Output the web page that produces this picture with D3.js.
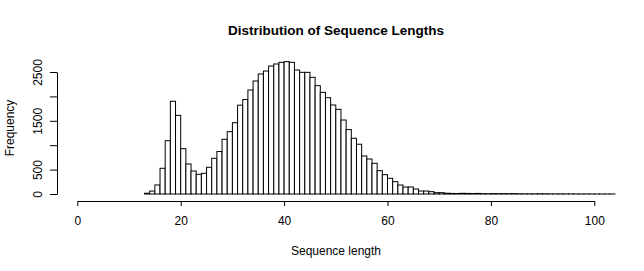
<!DOCTYPE html>
<html>
<head>
<meta charset="utf-8">
<script src="https://cdn.jsdelivr.net/npm/d3@7"></script>
<style>
body { margin: 0; background: #fff; }
text { font-family: "Liberation Sans", Arial, sans-serif; fill: #000; }
</style>
</head>
<body>
<script>
// histogram bins: left edge of each 1-unit bin and its count
var binStart = [13, 14, 15, 16, 17, 18, 19, 20, 21, 22, 23, 24, 25, 26, 27, 28, 29, 30,
    31, 32, 33, 34, 35, 36, 37, 38, 39, 40, 41, 42, 43, 44, 45, 46, 47, 48, 49, 50,
    51, 52, 53, 54, 55, 56, 57, 58, 59, 60, 61, 62, 63, 64, 65, 66, 67, 68, 69, 70,
    71, 72, 73, 74, 75, 76, 77, 78, 79, 80, 81, 82, 83, 84, 85, 86, 87, 88, 89, 90,
    91, 92, 93, 94, 95, 96, 97, 98, 99, 100, 101, 102, 103];
var counts = [15, 60, 185, 527, 1092, 1900, 1612, 929, 615, 471, 404, 424, 547, 731, 870, 1121, 1277, 1461,
    1820, 1935, 2131, 2316, 2459, 2520, 2623, 2664, 2698, 2712, 2698, 2541, 2493, 2493, 2391, 2220, 2083, 1974, 1824, 1735,
    1516, 1320, 1141, 1020, 779, 717, 629, 478, 396, 321, 253, 184, 143, 143, 102, 61, 61, 48, 27, 27,
    15, 12, 10, 14, 12, 10, 12, 8, 6, 9, 7, 8, 7, 8, 5, 4, 4, 3, 6, 5,
    3, 2, 3, 2, 2, 2, 1, 2, 1, 1, 1, 1, 1];
var binWidth = 1;

var xTicks = [0, 20, 40, 60, 80, 100];
var yTicks = [0, 500, 1000, 1500, 2000, 2500];
var yTickLabels = ["0", "500", "", "1500", "", "2500"];

var width = 644, height = 271;

var x = d3.scaleLinear().domain([0, 100]).range([77.3, 594.3]);
var y = d3.scaleLinear().domain([0, 2500]).range([194, 72]);

var svg = d3.select("body").append("svg")
    .attr("width", width)
    .attr("height", height);

var data = binStart.map(function(b, i) { return { x0: b, x1: b + binWidth, n: counts[i] }; });

// bars
svg.append("g").selectAll("rect")
    .data(data)
    .enter().append("rect")
    .attr("x", function(d) { return x(d.x0); })
    .attr("width", function(d) { return x(d.x1) - x(d.x0); })
    .attr("y", function(d) { return y(d.n); })
    .attr("height", function(d) { return y(0) - y(d.n); })
    .attr("fill", "#fff")
    .attr("stroke", "#000")
    .attr("stroke-width", 1);

// x axis
var xAxis = d3.axisBottom(x)
    .tickValues(xTicks)
    .tickSize(5)
    .tickPadding(10)
    .tickSizeOuter(0);

var gx = svg.append("g")
    .attr("transform", "translate(0,201)")
    .call(xAxis);
gx.selectAll("text").style("font-size", "12px").attr("font-family", null);
gx.selectAll("line, path").attr("stroke", "#000");

// y axis (R style, rotated labels)
var yAxis = d3.axisLeft(y)
    .tickValues(yTicks)
    .tickFormat(function(d, i) { return yTickLabels[i]; })
    .tickSize(7)
    .tickSizeOuter(0);

var gy = svg.append("g")
    .attr("transform", "translate(57,0)")
    .call(yAxis);
gy.selectAll("line, path").attr("stroke", "#000");
gy.selectAll(".tick text")
    .style("font-size", "12px")
    .attr("font-family", null)
    .attr("x", null)
    .attr("dy", null)
    .attr("text-anchor", "middle")
    .attr("dominant-baseline", "central")
    .attr("transform", "translate(-19,0) rotate(-90)");

// titles
svg.append("text")
    .attr("x", 336)
    .attr("y", 35)
    .attr("text-anchor", "middle")
    .style("font-size", "13.5px")
    .style("font-weight", "bold")
    .text("Distribution of Sequence Lengths");

svg.append("text")
    .attr("x", 336)
    .attr("y", 255)
    .attr("text-anchor", "middle")
    .style("font-size", "12px")
    .text("Sequence length");

svg.append("text")
    .attr("transform", "translate(14,128) rotate(-90)")
    .attr("text-anchor", "middle")
    .style("font-size", "12px")
    .text("Frequency");
</script>
</body>
</html>
